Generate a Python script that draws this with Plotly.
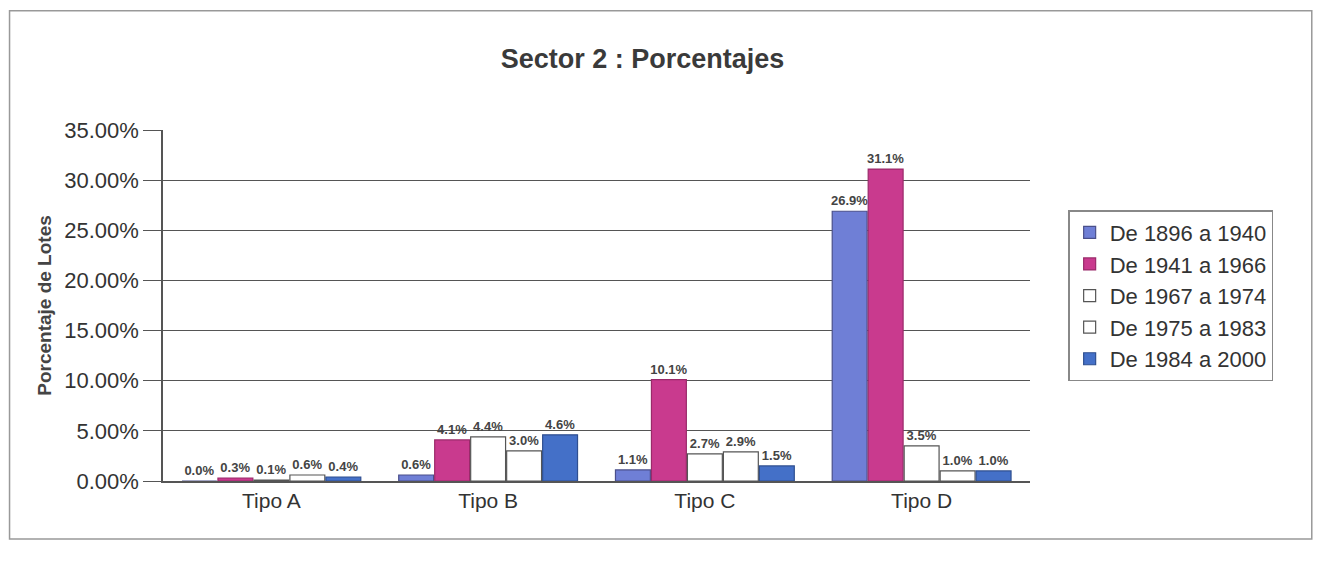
import plotly.graph_objects as go

# Data
categories = ["Tipo A", "Tipo B", "Tipo C", "Tipo D"]
series_names = ["De 1896 a 1940", "De 1941 a 1966", "De 1967 a 1974",
                "De 1975 a 1983", "De 1984 a 2000"]
v_1896_1940 = [0.0, 0.6, 1.1, 26.9]
v_1941_1966 = [0.3, 4.1, 10.1, 31.1]
v_1967_1974 = [0.1, 4.4, 2.7, 3.5]
v_1975_1983 = [0.6, 3.0, 2.9, 1.0]
v_1984_2000 = [0.4, 4.6, 1.5, 1.0]
y_ticks = [0, 5, 10, 15, 20, 25, 30, 35]
y_tick_text = ["0.00%", "5.00%", "10.00%", "15.00%", "20.00%", "25.00%", "30.00%", "35.00%"]

all_values = [v_1896_1940, v_1941_1966, v_1967_1974, v_1975_1983, v_1984_2000]
fills = ["#6f7fd6", "#c93a8e", "#ffffff", "#ffffff", "#4470c8"]
edges = ["#4a4f8a", "#9a2a6a", "#555555", "#555555", "#2f4f90"]

fig = go.Figure()
for name, vals, fc, ec in zip(series_names, all_values, fills, edges):
    fig.add_trace(go.Bar(
        name=name, x=categories, y=vals,
        marker=dict(color=fc, line=dict(color=ec, width=1.2)),
        text=[f"<b>{v:.1f}%</b>" for v in vals],
        textposition="outside",
        constraintext="none",
        textfont=dict(family="Liberation Sans, Arial", size=13, color="#444444"),
        cliponaxis=False,
    ))

fig.update_layout(
    width=1322, height=563,
    paper_bgcolor="white", plot_bgcolor="white",
    font=dict(family="Liberation Sans, Arial", color="#333333"),
    title=dict(text="<b>Sector 2 : Porcentajes</b>", x=0.48, xanchor="center",
               y=0.911, yanchor="middle", font=dict(size=27, color="#3a3a3a")),
    margin=dict(l=155, r=300, t=122, b=90),
    barmode="group", bargap=0.17, bargroupgap=0.03,
    showlegend=True,
    legend=dict(x=1.044, y=0.772, xanchor="left", yanchor="top",
                bordercolor="#888888", borderwidth=1.5,
                font=dict(size=22, color="#333333"), traceorder="normal",
                itemwidth=30),
    xaxis=dict(showline=True, linecolor="#555555", linewidth=1.5,
               ticks="", tickfont=dict(size=21, color="#333333")),
    yaxis=dict(range=[0, 35], tickvals=y_ticks, ticktext=y_tick_text,
               showgrid=True, gridcolor="#555555", gridwidth=1.2,
               showline=True, linecolor="#555555", linewidth=1.5,
               ticks="outside", ticklen=18, tickcolor="#555555",
               tickfont=dict(size=22, color="#333333"),
               title=dict(text="<b>Porcentaje de Lotes</b>", standoff=8,
                          font=dict(size=19, color="#444444"))),
    shapes=[dict(type="rect", xref="paper", yref="paper",
                 x0=-0.177, x1=1.325, y0=-0.165, y1=1.34,
                 line=dict(color="#999999", width=1.5))],
)

fig.write_html("out.html")
